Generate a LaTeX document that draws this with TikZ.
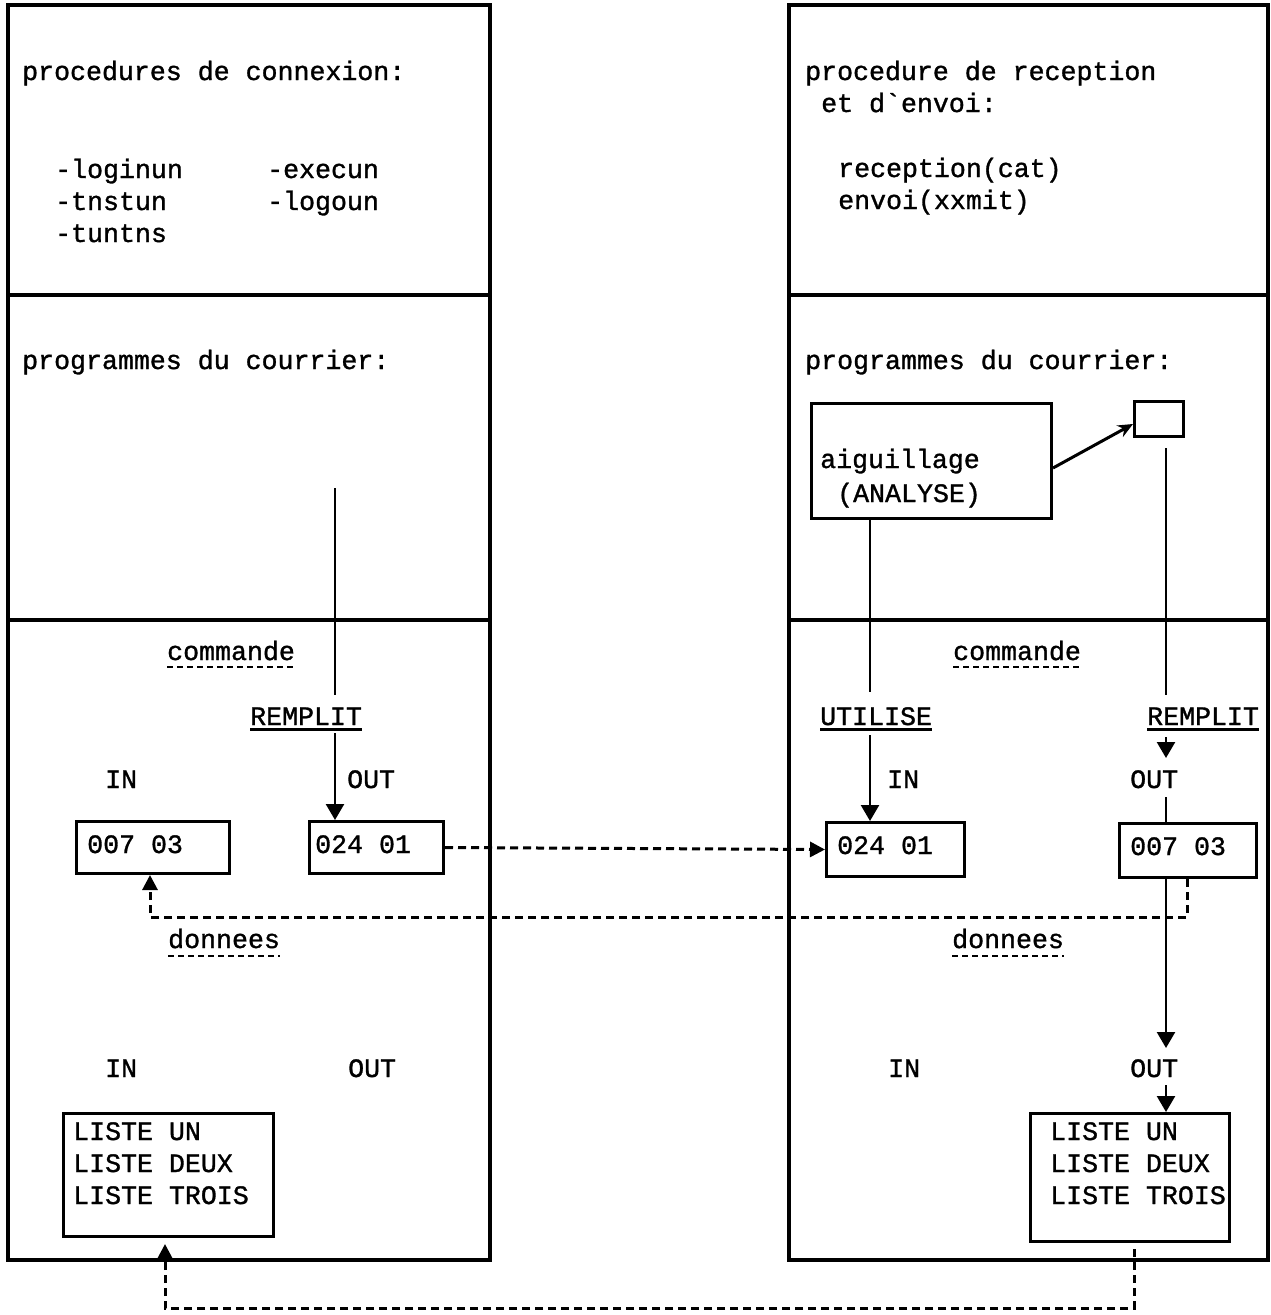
\documentclass[tikz,border=0pt]{standalone}
\usepackage{fontspec}
\setmonofont{Liberation Mono}
\newfontfamily\twfont[FakeBold=1.2]{Liberation Mono}
\usetikzlibrary{arrows.meta,calc}
\begin{document}
\begin{tikzpicture}[x=1pt,y=-1pt,
  txt/.style={font=\twfont\fontsize{26.6}{32}\selectfont, anchor=base west, inner sep=0pt},
  frame/.style={line width=3.5pt},
  box/.style={draw, line width=3pt, anchor=north west, inner sep=0pt},
  ln/.style={line width=2.5pt},
  arr/.style={line width=2.5pt,-{Triangle[length=16pt,width=18pt]}},
  dsh/.style={line width=3pt, dash pattern=on 8pt off 5pt},
  dsharr/.style={dsh,-{Triangle[length=15pt,width=15pt]}},
  uline/.style={line width=3pt},
  duline/.style={line width=2.6pt, dash pattern=on 6pt off 4pt},
]
\useasboundingbox[fill=white] (0,0) rectangle (1270,1315);

% outer frames
\draw[frame] (8,5) rectangle (490,1260);
\draw[frame] (8,295) -- (490,295);
\draw[frame] (8,620) -- (490,620);
\draw[frame] (789,5) rectangle (1268,1260);
\draw[frame] (789,295) -- (1268,295);
\draw[frame] (789,620) -- (1268,620);

% ---------- left column texts
\node[txt] (t1) at (22,80) {procedures de connexion:};
\node[txt] (t2) at (55,178) {-loginun};
\node[txt] (t3) at (267,178) {-execun};
\node[txt] (t4) at (55,210) {-tnstun};
\node[txt] (t5) at (267,210) {-logoun};
\node[txt] (t6) at (55,242) {-tuntns};
\node[txt] (t7) at (22,369) {programmes du courrier:};

% ---------- right column texts
\node[txt] (r1) at (805,80) {procedure de reception};
\node[txt] (r2) at (821,112) {et d\textasciigrave envoi:};
\node[txt] (r3) at (838,177) {reception(cat)};
\node[txt] (r4) at (838,209) {envoi(xxmit)};
\node[txt] (r5) at (805,369) {programmes du courrier:};

% aiguillage box and small box
\node[box, minimum width=240pt, minimum height=115pt] (aig) at (810,402) {};
\node[txt] (a1) at (820,468) {aiguillage};
\node[txt] (a2) at (837,502) {(ANALYSE)};
\node[box, minimum width=49pt, minimum height=35pt] (sb) at (1133,400) {};
\draw[line width=3pt,-{Stealth[length=15pt,width=13pt]}] ($(aig.east)+(0,7)$) -- ($(sb.west)+(0,5)$);

% ---------- commande labels
\node[txt] (cmL) at (167,660) {commande};
\draw[duline] ($(cmL.base west)+(0,7)$) -- ($(cmL.base east)+(0,7)$);
\node[txt] (cmR) at (953,660) {commande};
\draw[duline] ($(cmR.base west)+(0,7)$) -- ($(cmR.base east)+(0,7)$);

\node[txt] (rpL) at (250,725) {REMPLIT};
\draw[uline] ($(rpL.base west)+(0,4)$) -- ($(rpL.base east)+(0,4)$);
\node[txt] (utR) at (820,725) {UTILISE};
\draw[uline] ($(utR.base west)+(0,4)$) -- ($(utR.base east)+(0,4)$);
\node[txt] (rpR) at (1147,725) {REMPLIT};
\draw[uline] ($(rpR.base west)+(0,4)$) -- ($(rpR.base east)+(0,4)$);

\node[txt] (inL) at (105,788) {IN};
\node[txt] (outL) at (347,788) {OUT};
\node[txt] (inR) at (887,788) {IN};
\node[txt] (outR) at (1130,788) {OUT};

% command boxes
\node[box, minimum width=153pt, minimum height=52pt] (c1) at (75,820) {};
\node[txt] at (87,853) {007 03};
\node[box, minimum width=134pt, minimum height=52pt] (o1) at (308,820) {};
\node[txt] at (315,853) {024 01};
\node[box, minimum width=138pt, minimum height=54pt] (i2) at (825,821) {};
\node[txt] at (837,854) {024 01};
\node[box, minimum width=137pt, minimum height=54pt] (o2) at (1118,822) {};
\node[txt] at (1130,855) {007 03};

% ---------- donnees labels
\node[txt] (dnL) at (168,948) {donnees};
\draw[duline] ($(dnL.base west)+(0,8)$) -- ($(dnL.base east)+(0,8)$);
\node[txt] (dnR) at (952,948) {donnees};
\draw[duline] ($(dnR.base west)+(0,8)$) -- ($(dnR.base east)+(0,8)$);

\node[txt] (inL2) at (105,1077) {IN};
\node[txt] (outL2) at (348,1077) {OUT};
\node[txt] (inR2) at (888,1077) {IN};
\node[txt] (outR2) at (1130,1077) {OUT};

% list boxes
\node[box, minimum width=210pt, minimum height=123pt] (L1) at (62,1112) {};
\node[txt] at (73,1140) {LISTE UN};
\node[txt] at (73,1172) {LISTE DEUX};
\node[txt] at (73,1204) {LISTE TROIS};
\node[box, minimum width=199pt, minimum height=128pt] (L2) at (1029,1112) {};
\node[txt] at (1050,1140) {LISTE UN};
\node[txt] at (1050,1172) {LISTE DEUX};
\node[txt] at (1050,1204) {LISTE TROIS};

% ---------- solid connectors
\coordinate (topL) at (335,488);
\coordinate (topLend) at (335,695);
\coordinate (rpLs) at (335,733);
\draw[ln] (topL) -- (topLend);
\draw[arr] (rpLs) -- ($(o1.north west)+(27,0)$);

\coordinate (aigEnd) at (870,692);
\coordinate (utS) at (870,735);
\draw[ln] ($(aig.south west)+(60,0)$) -- (aigEnd);
\draw[arr] (utS) -- ($(i2.north west)+(45,0)$);

\coordinate (sbEnd) at (1166,695);
\coordinate (rpA1) at (1166,737);
\coordinate (rpA2) at (1166,758);
\coordinate (outRs) at (1166,797);
\draw[ln] ($(sb.south west)+(33,10)$) -- (sbEnd);
\draw[arr] (rpA1) -- (rpA2);
\draw[ln] (outRs) -- ($(o2.north west)+(48,0)$);
\draw[arr] ($(o2.south west)+(48,0)$) -- (1166,1048);
\coordinate (outR2s) at (1166,1085);
\draw[arr] (outR2s) -- ($(L2.north west)+(137,0)$);

% ---------- dashed connectors
\draw[dsharr] (o1.east) -- (i2.west);
\draw[dsharr] ($(o2.south west)+(69,0)$) -- (1187,917) -| ($(c1.south west)+(75,0)$);
\draw[dsharr] ($(L2.south west)+(105,6)$) -- (1134,1308) -| ($(L1.south west)+(103,6)$);

\end{tikzpicture}
\end{document}
